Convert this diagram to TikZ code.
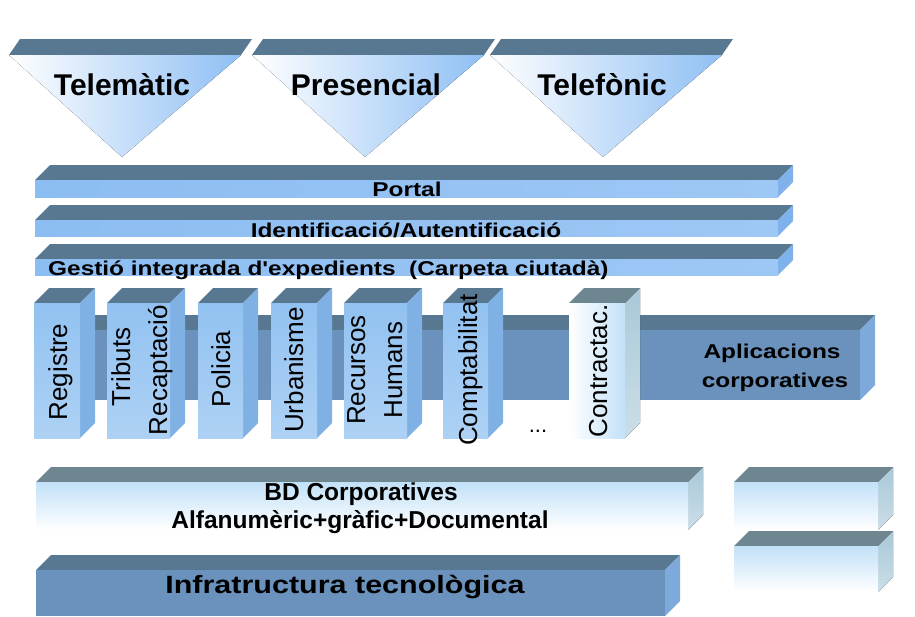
\documentclass[tikz,border=0pt]{standalone}
\usepackage{fontspec}
\setmainfont{Liberation Sans}
\newfontfamily\widefont{Liberation Sans}[FakeStretch=1.22]

\definecolor{slate}{HTML}{587892}
\definecolor{slategrey}{HTML}{6E8690}
\definecolor{funnelblue}{HTML}{8FBFF4}
\definecolor{barblue}{HTML}{8CBDF2}
\definecolor{barside}{HTML}{7FB2EA}
\definecolor{steel}{HTML}{6A92BC}
\definecolor{steelside}{HTML}{7DAADB}
\definecolor{colblue}{HTML}{92C2F1}
\definecolor{colside}{HTML}{80B1E5}
\definecolor{iceblue}{HTML}{C2E1F8}
\definecolor{iceside}{HTML}{A9C8D8}

\tikzset{
  darktop/.style={fill=slate},
  greytop/.style={fill=slategrey},
  funnel/.style={left color=white,right color=funnelblue},
  barfront/.style={left color=barblue,middle color=barblue!45!white,right color=barblue!85!white},
  barend/.style={fill=barside},
  appfront/.style={fill=steel},
  append/.style={fill=steelside},
  colfront/.style={top color=colblue,middle color=colblue!35!white,bottom color=colblue!75!white},
  colend/.style={fill=colside},
  palefront/.style={left color=white,right color=iceblue},
  icefront/.style={top color=iceblue,bottom color=white},
  iceend/.style={top color=iceside,bottom color=iceside!60!white},
  bigtext/.style={anchor=base,inner sep=0pt,font=\bfseries\fontsize{30}{32}\selectfont},
  bartext/.style={anchor=base,inner sep=0pt,font=\widefont\bfseries\fontsize{20}{22}\selectfont},
  bdtext/.style={anchor=base,inner sep=0pt,font=\bfseries\fontsize{24.5}{26}\selectfont},
  coltext/.style={rotate=90,anchor=base,inner sep=0pt,font=\fontsize{26}{28}\selectfont}
}

\newcommand{\cuboid}[7]{%
  \fill[#5] (#1,#2) -- (#1+15,#2-15) -- (#3+15,#2-15) -- (#3,#2) -- cycle;
  \fill[#7] (#3,#2) -- (#3+15,#2-15) -- (#3+15,#4-15) -- (#3,#4) -- cycle;
  \fill[#6] (#1,#2) rectangle (#3,#4);
}

\begin{document}
\begin{tikzpicture}[x=1pt,y=-1pt]
\useasboundingbox (0,0) rectangle (915,616);

\foreach \l in {9,252,490} {
  \fill[darktop] (\l,55) -- (\l+11,39) -- (\l+243,39) -- (\l+232,55) -- cycle;
  \fill[funnel] (\l,55) -- (\l+232,55) -- (\l+113,157) -- cycle;
}

\cuboid{35}{180}{778}{197}{darktop}{barfront}{barend}
\cuboid{35}{220}{778}{236}{darktop}{barfront}{barend}
\cuboid{35}{259}{778}{275}{darktop}{barfront}{barend}
\cuboid{50}{330}{860}{400}{darktop}{appfront}{append}

\foreach \a/\b in {34/80,107/170,198/243,271/317,344/407,443/488}
  {\cuboid{\a}{303}{\b}{438}{darktop}{colfront}{colend}}
\cuboid{569}{303}{625}{438}{greytop}{palefront}{iceend}

\cuboid{36}{482}{688}{530}{greytop}{icefront}{iceend}
\cuboid{734}{482}{878}{530}{greytop}{icefront}{iceend}
\cuboid{734}{546}{878}{592}{greytop}{icefront}{iceend}
\cuboid{36}{570}{665}{616}{darktop}{appfront}{append}

\path (122,95) node[bigtext] (telematic) {Telemàtic}
      (366,95) node[bigtext] (presencial) {Presencial}
      (602,95) node[bigtext] (telefonic) {Telefònic};

\path (407,196) node[bartext] (portal) {Portal}
      (406,237) node[bartext] (ident) {Identificació/Autentificació}
      (48,275) node[bartext,anchor=base west] (gestio) {Gestió integrada d'expedients\ \ (Carpeta ciutadà)}
      (772,358) node[bartext] (aplic) {Aplicacions}
      (775,387) node[bartext] (corp) {corporatives}
      (345,593) node[bartext,font=\widefont\bfseries\fontsize{25}{27}\selectfont] (infra) {Infratructura tecnològica};

\path (361,500) node[bdtext] (bd) {BD Corporatives}
      (360,528) node[bdtext] (alfa) {Alfanumèric+gràfic+Documental};

\path (67,372) node[coltext] (registre) {Registre}
      (130,367) node[coltext] (tributs) {Tributs}
      (167,370) node[coltext] (recaptacio) {Recaptació}
      (230,369) node[coltext] (policia) {Policia}
      (303,370) node[coltext] (urbanisme) {Urbanisme}
      (365,370) node[coltext] (recursos) {Recursos}
      (402,370) node[coltext] (humans) {Humans}
      (477,370) node[coltext] (comptabilitat) {Comptabilitat}
      (607,371) node[coltext] (contractac) {Contractac.}
      (538,432) node[anchor=base,inner sep=0pt,font=\fontsize{22}{24}\selectfont] (dots) {...};
\end{tikzpicture}
\end{document}
